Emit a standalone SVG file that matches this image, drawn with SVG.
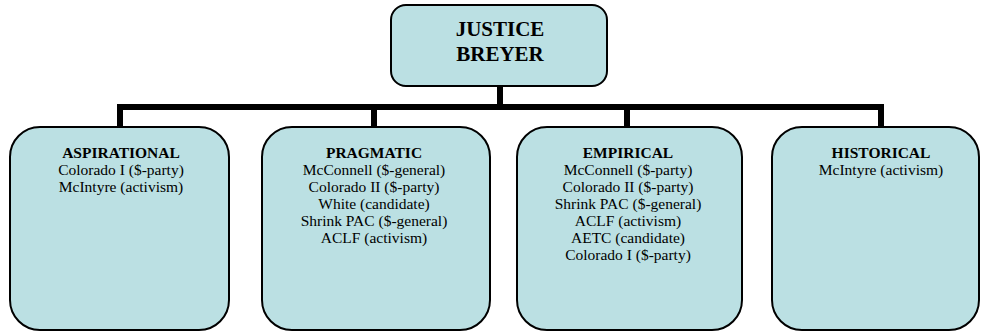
<svg xmlns="http://www.w3.org/2000/svg" width="982" height="332" viewBox="0 0 982 332">
  <style>
    .box { fill: #BBE0E3; stroke: #000; stroke-width: 2; }
    .wire { fill: none; stroke: #000; stroke-width: 6; stroke-linecap: butt; }
    text { font-family: "Liberation Serif", "Times New Roman", serif; fill: #000; text-anchor: middle; }
    .root { font-size: 21px; font-weight: bold; }
    .head { font-size: 15.5px; font-weight: bold; }
    .item { font-size: 15.5px; }
  </style>
  <rect width="982" height="332" fill="#fff"/>

  <!-- connectors: trunk, bus bar and drops -->
  <g id="connectors">
    <path class="wire" d="M500 86 V107"/>
    <path class="wire" d="M117 107 H884"/>
    <path class="wire" d="M120 104 V127"/>
    <path class="wire" d="M374 107 V127"/>
    <path class="wire" d="M627 107 V127"/>
    <path class="wire" d="M881 104 V127"/>
  </g>

  <g id="justice-breyer">
    <rect class="box" x="391" y="5" width="216" height="81" rx="15"/>
    <text class="root" x="500" y="36">JUSTICE</text>
    <text class="root" x="500" y="61">BREYER</text>
  </g>

  <g id="aspirational">
    <rect class="box" x="10" y="127" width="219" height="203" rx="30"/>
    <text class="head" x="121" y="158">ASPIRATIONAL</text>
    <text class="item" x="121" y="175">Colorado I ($-party)</text>
    <text class="item" x="121" y="192">McIntyre (activism)</text>
  </g>

  <g id="pragmatic">
    <rect class="box" x="262" y="127" width="228" height="203" rx="30"/>
    <text class="head" x="374" y="158">PRAGMATIC</text>
    <text class="item" x="374" y="175">McConnell ($-general)</text>
    <text class="item" x="374" y="192">Colorado II ($-party)</text>
    <text class="item" x="374" y="209">White (candidate)</text>
    <text class="item" x="374" y="226">Shrink PAC ($-general)</text>
    <text class="item" x="374" y="243">ACLF (activism)</text>
  </g>

  <g id="empirical">
    <rect class="box" x="517" y="127" width="225" height="203" rx="30"/>
    <text class="head" x="628" y="158">EMPIRICAL</text>
    <text class="item" x="628" y="175">McConnell ($-party)</text>
    <text class="item" x="628" y="192">Colorado II ($-party)</text>
    <text class="item" x="628" y="209">Shrink PAC ($-general)</text>
    <text class="item" x="628" y="226">ACLF (activism)</text>
    <text class="item" x="628" y="243">AETC (candidate)</text>
    <text class="item" x="628" y="260">Colorado I ($-party)</text>
  </g>

  <g id="historical">
    <rect class="box" x="772" y="127" width="207" height="203" rx="30"/>
    <text class="head" x="881" y="158">HISTORICAL</text>
    <text class="item" x="881" y="175">McIntyre (activism)</text>
  </g>
</svg>
